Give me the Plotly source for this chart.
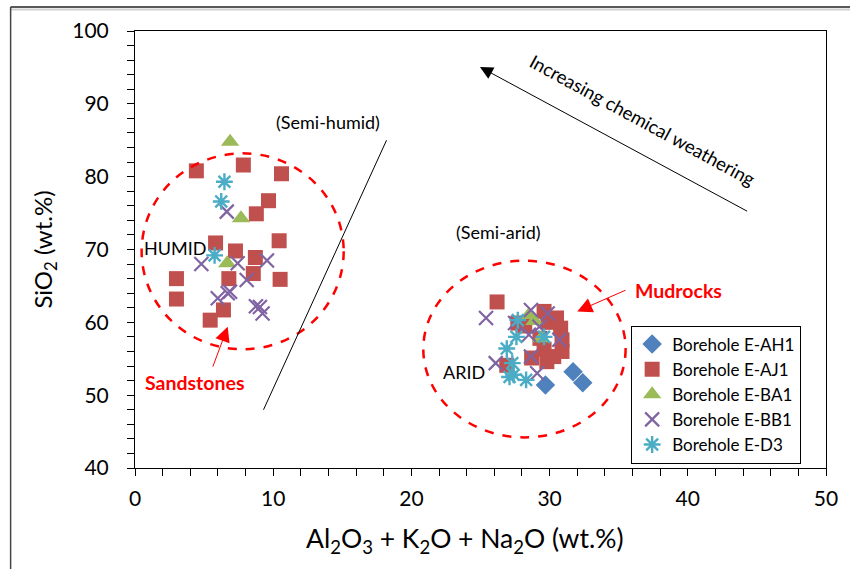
import plotly.graph_objects as go

# ---- sample data: Al2O3 + K2O + Na2O (x) vs SiO2 (y), wt.% ----
ah1_x = [29.7, 31.7, 32.4]
ah1_y = [51.4, 53.2, 51.7]

aj1_x = [4.44, 7.84, 10.6, 9.66, 8.78, 5.83, 7.27, 10.43, 8.71, 8.56, 6.79, 10.5, 3.0, 3.0, 6.4, 5.44,
         26.2, 29.6, 30.5, 30.8, 30.9, 30.9, 30.3, 29.8, 29.6, 29.3, 28.7, 27.7, 26.9, 29.9, 28.2]
aj1_y = [80.8, 81.6, 80.4, 76.7, 74.9, 70.9, 69.8, 71.2, 68.9, 66.7, 66.0, 65.9, 66.0, 63.2, 61.7, 60.3,
         62.8, 61.5, 60.6, 59.2, 57.6, 56.0, 55.3, 54.6, 56.3, 57.8, 55.1, 59.9, 54.1, 60.0, 59.5]

ba1_x = [6.88, 7.67, 6.67, 28.5, 28.9, 29.4]
ba1_y = [84.8, 74.3, 68.1, 61.0, 60.2, 57.8]

bb1_x = [6.64, 4.8, 7.43, 9.55, 8.08, 5.99, 6.71, 6.88, 8.75, 9.04, 9.23,
         25.4, 28.65, 29.86, 29.26, 28.5, 30.7, 28.65, 26.1, 29.1, 27.5]
bb1_y = [75.2, 68.0, 68.1, 68.5, 65.8, 63.3, 64.0, 64.2, 62.2, 62.1, 61.2,
         60.6, 61.7, 61.2, 59.4, 58.3, 57.6, 55.3, 54.4, 53.0, 59.9]

d3_x = [6.47, 6.24, 5.76, 27.7, 27.6, 26.9, 27.3, 27.1, 28.3, 29.6, 27.4]
d3_y = [79.3, 76.6, 69.2, 60.3, 58.0, 56.4, 54.4, 52.5, 52.1, 58.0, 52.8]

series_names = ["Borehole E-AH1", "Borehole E-AJ1", "Borehole E-BA1", "Borehole E-BB1", "Borehole E-D3"]

FONT = "Lato"
BLUE, RED, GREEN, PURPLE, CYAN = "#4F81BD", "#C0504D", "#9BBB59", "#8064A2", "#4BACC6"

fig = go.Figure()

fig.add_trace(go.Scatter(x=ah1_x, y=ah1_y, mode="markers", name=series_names[0], legendgroup="g1",
                         marker=dict(symbol="diamond", size=15, color=BLUE)))
fig.add_trace(go.Scatter(x=aj1_x, y=aj1_y, mode="markers", name=series_names[1], legendgroup="g2",
                         marker=dict(symbol="square", size=15, color=RED)))
fig.add_trace(go.Scatter(x=ba1_x, y=ba1_y, mode="markers", name=series_names[2], legendgroup="g3",
                         marker=dict(symbol="triangle-up", size=16, color=GREEN)))
fig.add_trace(go.Scatter(x=bb1_x, y=bb1_y, mode="markers", name=series_names[3], legendgroup="g4",
                         marker=dict(symbol="x-thin", size=14, color=PURPLE,
                                     line=dict(color=PURPLE, width=2.2))))
fig.add_trace(go.Scatter(x=d3_x, y=d3_y, mode="markers", name=series_names[4], legendgroup="g5",
                         marker=dict(symbol="asterisk", size=14, color=CYAN,
                                     line=dict(color=CYAN, width=2.4))))

shapes = [
    # humid / arid sample fields
    dict(type="circle", xref="x", yref="y", x0=0.48, x1=15.1, y0=56.3, y1=83.2,
         line=dict(color="#FF0000", width=2.5, dash="dash")),
    dict(type="circle", xref="x", yref="y", x0=20.86, x1=35.5, y0=44.2, y1=68.46,
         line=dict(color="#FF0000", width=2.5, dash="dash")),
    # boundary line between fields
    dict(type="line", xref="x", yref="y", x0=9.3, y0=48.0, x1=18.2, y1=85.0,
         line=dict(color="black", width=1)),
    # outer chart frame
    dict(type="line", xref="paper", yref="paper", x0=-0.18, x1=1.05, y0=1.055, y1=1.055,
         line=dict(color="#222222", width=1.5)),
    dict(type="line", xref="paper", yref="paper", x0=-0.18, x1=1.05, y0=1.049, y1=1.049,
         line=dict(color="#D0D0D0", width=2)),
    dict(type="line", xref="paper", yref="paper", x0=-0.18, x1=-0.18, y0=1.055, y1=-0.35,
         line=dict(color="#444444", width=1.5)),
]

annotations = [
    dict(x=14.0, y=87.5, xref="x", yref="y", text="(Semi-humid)", showarrow=False,
         font=dict(family=FONT, size=18, color="black")),
    dict(x=2.88, y=70.2, xref="x", yref="y", text="HUMID", showarrow=False,
         font=dict(family=FONT, size=18, color="black")),
    dict(x=26.3, y=72.4, xref="x", yref="y", text="(Semi-arid)", showarrow=False,
         font=dict(family=FONT, size=18, color="black")),
    dict(x=23.8, y=53.2, xref="x", yref="y", text="ARID", showarrow=False,
         font=dict(family=FONT, size=18, color="black")),
    dict(x=4.32, y=51.7, xref="x", yref="y", text="<b>Sandstones</b>", showarrow=False,
         font=dict(family=FONT, size=19.5, color="#FF0000")),
    dict(x=39.3, y=64.4, xref="x", yref="y", text="<b>Mudrocks</b>", showarrow=False,
         font=dict(family=FONT, size=19.5, color="#FF0000")),
    dict(x=36.7, y=87.8, xref="x", yref="y", text="Increasing chemical weathering", showarrow=False,
         textangle=28.5, font=dict(family=FONT, size=18.5, color="black")),
    # x-axis title
    dict(x=0.478, y=-0.165, xref="paper", yref="paper", xanchor="center", yanchor="middle",
         text="Al<sub>2</sub>O<sub>3</sub> + K<sub>2</sub>O + Na<sub>2</sub>O (wt.%)", showarrow=False,
         font=dict(family=FONT, size=26.5, color="black")),
    # arrows
    dict(x=6.71, y=59.4, ax=5.59, ay=53.7, xref="x", yref="y", axref="x", ayref="y", text="",
         showarrow=True, arrowhead=2, arrowsize=3, arrowwidth=1, arrowcolor="#FF0000"),
    dict(x=32.0, y=61.5, ax=35.6, ay=64.5, xref="x", yref="y", axref="x", ayref="y", text="",
         showarrow=True, arrowhead=2, arrowsize=3, arrowwidth=1, arrowcolor="#FF0000"),
    dict(x=24.96, y=95.06, ax=44.4, ay=75.15, xref="x", yref="y", axref="x", ayref="y", text="",
         showarrow=True, arrowhead=2, arrowsize=2.6, arrowwidth=1, arrowcolor="black"),
]

axis_common = dict(
    showgrid=False, zeroline=False, showline=True, linecolor="black", linewidth=1,
    mirror=True, ticks="outside", ticklen=7, tickcolor="black",
    tickfont=dict(family=FONT, size=21, color="black"),
    minor=dict(dtick=2, ticks="outside", ticklen=7, tickcolor="black", showgrid=False),
)

fig.update_layout(
    width=850, height=569,
    margin=dict(l=135, r=20, t=31, b=101),
    paper_bgcolor="white", plot_bgcolor="white",
    font=dict(family=FONT, color="black"),
    xaxis=dict(range=[0, 50], dtick=10, ticklabelstandoff=5, **axis_common),
    yaxis=dict(range=[40, 100], dtick=10, ticklabelstandoff=14,
               title=dict(text="SiO<sub>2</sub> (wt.%)", font=dict(family=FONT, size=24), standoff=12),
               **axis_common),
    legend=dict(x=0.718, y=0.326, xanchor="left", yanchor="top",
                bgcolor="white", bordercolor="black", borderwidth=1,
                font=dict(family=FONT, size=17, color="black"),
                traceorder="grouped", tracegroupgap=0, itemwidth=30),
    shapes=shapes,
    annotations=annotations,
    showlegend=True,
)

fig.write_html("out.html")
